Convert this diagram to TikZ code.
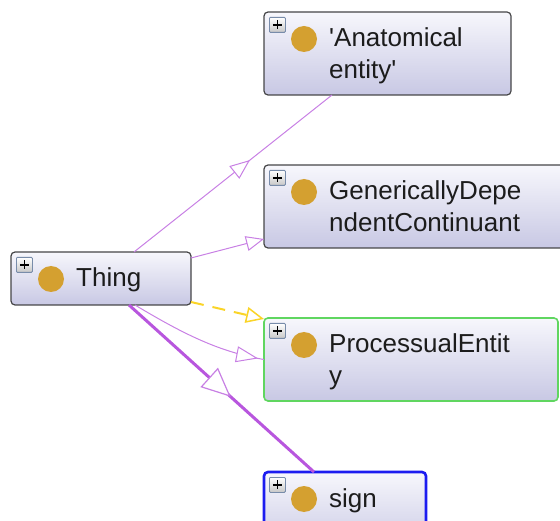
\documentclass[tikz,border=0pt]{standalone}
\usepackage{fontspec}
\setmainfont{Liberation Sans}
\usetikzlibrary{arrows.meta,calc,decorations.markings}

\definecolor{boxtop}{RGB}{247,247,252}
\definecolor{boxbot}{RGB}{200,200,228}
\definecolor{boxline}{RGB}{70,70,72}
\definecolor{selgreen}{RGB}{96,214,96}
\definecolor{selblue}{RGB}{28,28,240}
\definecolor{golddot}{RGB}{212,160,48}
\definecolor{edgepurple}{RGB}{200,128,228}
\definecolor{thickpurple}{RGB}{184,86,222}
\definecolor{edgeyellow}{RGB}{250,212,40}
\definecolor{plusline}{RGB}{120,140,170}
\definecolor{labeltext}{RGB}{28,28,28}

\tikzset{
  classbox/.style={draw=boxline, line width=1.2pt, rounded corners=4pt,
    top color=boxtop, bottom color=boxbot, anchor=north west,
    inner sep=0pt, outer sep=0pt},
  plusbox/.style={draw=plusline, line width=0.8pt, rounded corners=1pt,
    top color=white, bottom color=black!22, anchor=north west,
    minimum width=16pt, minimum height=15pt, inner sep=0pt},
  golddotstyle/.style={circle, fill=golddot, minimum size=26pt, inner sep=0pt},
  lbl/.style={anchor=base west, inner sep=0pt, text=labeltext,
    font=\fontsize{26}{32}\selectfont},
  edge/.style={draw=edgepurple, line width=1pt},
  midtip/.style={postaction={decorate}, decoration={markings,
    mark=at position #1 with {\arrow{Triangle[fill=white, length=20pt, width=16pt, line width=1pt]}}}},
  bigmidtip/.style={postaction={decorate}, decoration={markings,
    mark=at position #1 with {\arrow{Triangle[fill=white, color=edgepurple, length=29pt, width=26pt, line width=1.2pt]}}}},
  endtip/.style={postaction={decorate}, decoration={markings,
    mark=at position #1 with {\arrow{Triangle[fill=white, length=22pt, width=16pt, line width=1pt]}}}},
}

% icon, dot and first text line of a class box
\newcommand\classdeco[2]{%
  \node[plusbox] (#1-plus) at ($(#1.north west)+(5,5)$) {};
  \draw[line width=1.8pt] ($(#1-plus.center)+(-4.5,0)$) -- ($(#1-plus.center)+(4.5,0)$);
  \draw[line width=1.8pt] ($(#1-plus.center)+(0,-4.5)$) -- ($(#1-plus.center)+(0,4.5)$);
  \node[golddotstyle] (#1-dot) at ($(#1.north west)+(40,27)$) {};
  \node[lbl] (#1-t1) at ($(#1.north west)+(65,35)$) {#2};
}
% second text line of a class box
\newcommand\classline[2]{%
  \node[lbl] (#1-t2) at ($(#1.north west)+(65,67)$) {#2};
}

\begin{document}
\begin{tikzpicture}[x=1pt, y=-1pt]
  \clip (0,0) rectangle (560,521);

  % class boxes
  \node[classbox, minimum width=180pt, minimum height=53pt] (thing) at (11,252) {};
  \classdeco{thing}{Thing}

  \node[classbox, minimum width=247pt, minimum height=83pt] (anat) at (264,12) {};
  \classdeco{anat}{\textquotesingle Anatomical}
  \classline{anat}{entity\textquotesingle}

  \node[classbox, minimum width=320pt, minimum height=83pt] (gen) at (264,165) {};
  \classdeco{gen}{GenericallyDepe}
  \classline{gen}{ndentContinuant}

  \node[classbox, draw=selgreen, line width=1.6pt, minimum width=294pt, minimum height=83pt] (proc) at (264,318) {};
  \classdeco{proc}{ProcessualEntit}
  \classline{proc}{y}

  \node[classbox, draw=selblue, line width=2.6pt, minimum width=162pt, minimum height=80pt] (sign) at (264,472) {};
  \classdeco{sign}{sign}

  % subclass connectors
  \draw[edge, midtip=148pt] ($(thing.north west)+(123,0)$) -- ($(anat.south west)+(68,0)$);

  \draw[edge, -{Triangle[fill=white, length=18pt, width=15pt, line width=1pt]}]
    ($(thing.north east)+(0,6)$) -- ($(gen.south west)+(0,-9)$);

  \draw[draw=edgeyellow, line width=2pt, dash pattern=on 13pt off 9pt,
        -{Triangle[fill=white, length=18pt, width=16pt, line width=1.5pt]}]
    ($(thing.south east)+(0,-3)$) -- ($(proc.north west)+(0,1)$);

  \draw[edge, endtip=-6pt] ($(thing.south west)+(124,0)$)
    .. controls (185,335) and (220,352) .. (proc.west);

  \draw[draw=thickpurple, line width=3pt, bigmidtip=137pt]
    ($(thing.south west)+(118,0)$) -- ($(sign.north west)+(50,0)$);
\end{tikzpicture}
\end{document}
